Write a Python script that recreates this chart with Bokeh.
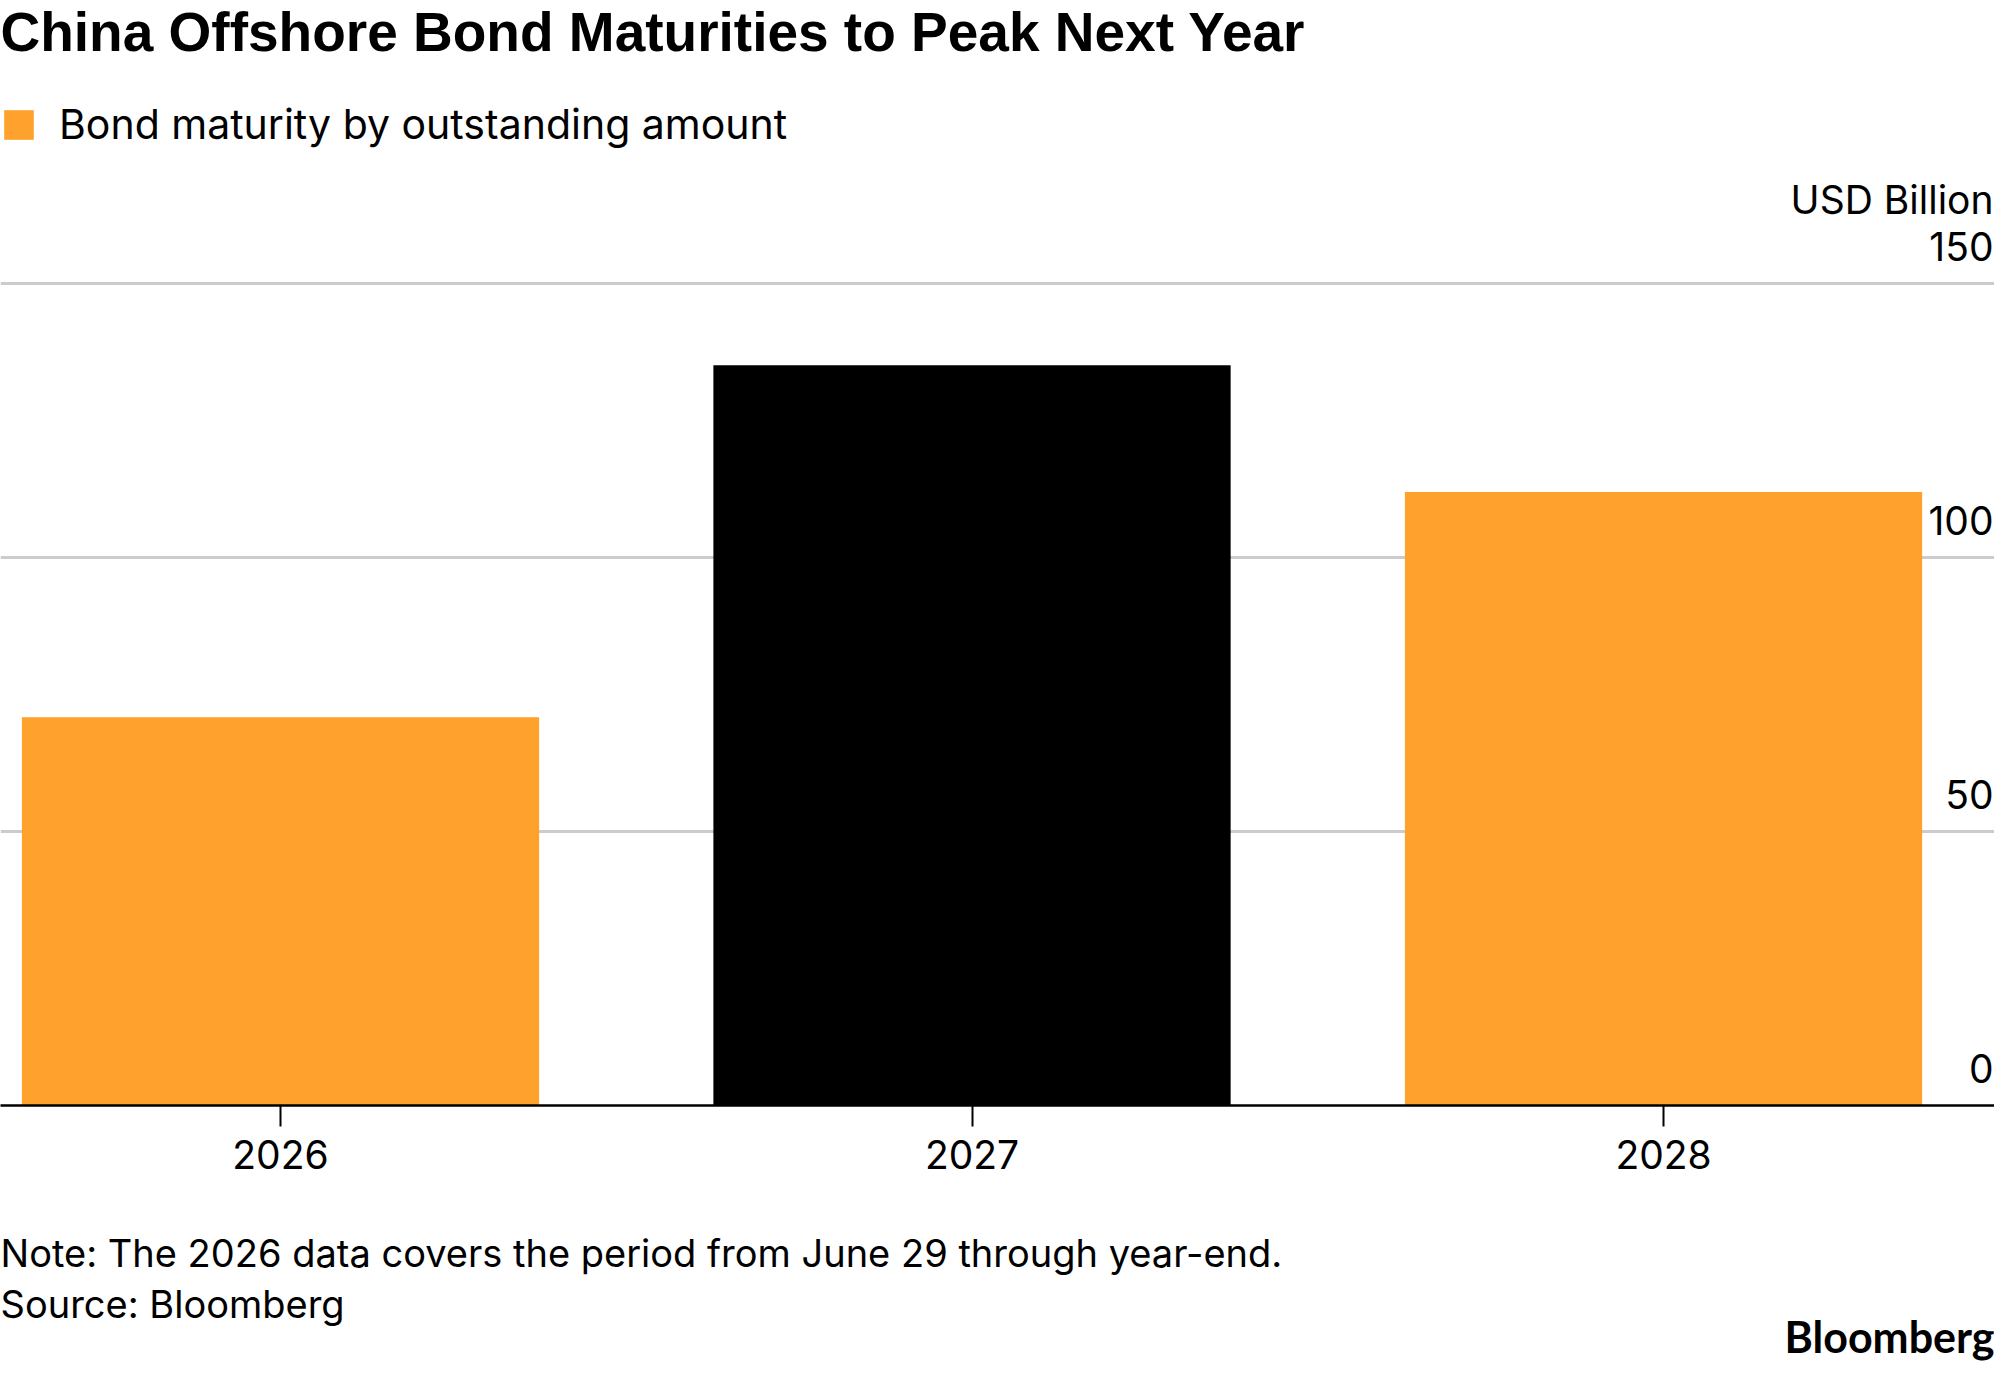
from bokeh.plotting import figure
from bokeh.models import (ColumnDataSource, FixedTicker, Grid, Label, LabelSet,
                          Legend, LegendItem, Range1d, Title)
from bokeh.core.properties import value
from bokeh.embed import file_html
from bokeh.resources import INLINE

# ---- data ----
years = [2026, 2027, 2028]
amounts = [70.8, 135.0, 111.9]
bar_colors = ["#FFA12D", "#000000", "#FFA12D"]
y_ticks = [0, 50, 100, 150]
y_tick_labels = ["0", "50", "100", "150"]
year_labels = ["2026", "2027", "2028"]

title_text = "China Offshore Bond Maturities to Peak Next Year"
legend_label = "Bond maturity by outstanding amount"
unit_label = "USD Billion"
note_text = "Note: The 2026 data covers the period from June 29 through year-end."
source_text = "Source: Bloomberg"
brand_text = "Bloomberg"

# ---- layout constants ----
W, H = 1994, 1370
BOTTOM = 265
FRAME_H = H - BOTTOM
FONT = "Inter"
FS = "39px"

p = figure(width=W, height=H, output_backend="svg", toolbar_location=None,
           x_range=Range1d(2025.5951, 2028.4786), y_range=Range1d(0, FRAME_H / 5.4833),
           y_axis_location=None,
           min_border_left=0, min_border_right=0,
           min_border_top=0, min_border_bottom=BOTTOM)
p.outline_line_color = None
p.background_fill_color = "white"
p.border_fill_color = "white"
p.xgrid.visible = False
p.ygrid.visible = False

src = ColumnDataSource(dict(x=years, top=amounts, color=bar_colors))
bars = p.vbar(x="x", top="top", bottom=0, width=0.748, fill_color="color",
              line_color=None, source=src)

# gridlines
p.add_layout(Grid(dimension=1, ticker=FixedTicker(ticks=y_ticks),
                  grid_line_color="#cccccc", grid_line_width=3))

# x axis
ax = p.xaxis[0]
ax.ticker = FixedTicker(ticks=years)
ax.major_label_overrides = {y: lab for y, lab in zip(years, year_labels)}
ax.minor_tick_line_color = None
ax.major_tick_out = 21
ax.major_tick_in = 0
ax.major_tick_line_width = 2
ax.major_tick_line_color = "black"
ax.axis_line_width = 2.5
ax.axis_line_color = "black"
ax.major_label_text_font = FONT
ax.major_label_text_font_size = FS
ax.major_label_text_color = "black"
ax.major_label_standoff = 13
# empty axis label used only as spacing before the notes
ax.axis_label = " "
ax.axis_label_text_font_size = "1px"
ax.axis_label_standoff = 48

# y tick labels (inside, right aligned, above gridlines)
ysrc = ColumnDataSource(dict(y=y_ticks, text=y_tick_labels))
p.add_layout(LabelSet(x=W - 1, x_units="screen", y="y", text="text", source=ysrc,
                      y_offset=22.5, text_align="right", text_baseline="alphabetic",
                      text_font=value(FONT), text_font_size=value(FS), text_color="black"))
p.add_layout(Label(x=W - 1, x_units="screen", y=y_ticks[-1], y_offset=84,
                   text=unit_label, text_align="right", text_baseline="alphabetic",
                   text_font=FONT, text_font_size=FS, text_color="black"))

# legend
legend = Legend(items=[LegendItem(label=legend_label, renderers=[bars], index=0)],
                location=(0, FRAME_H - 126 - 23), orientation="horizontal",
                border_line_color=None, background_fill_alpha=0,
                padding=0, margin=0, glyph_width=37, glyph_height=37,
                label_standoff=22, label_text_font=FONT, label_text_font_size="41px",
                label_text_color="black")
p.add_layout(legend)

# title (inside the top of the frame)
p.add_layout(Label(x=0, y=FRAME_H - 31, x_units="screen", y_units="screen",
                   text=title_text, text_font="Liberation Sans", text_font_style="bold",
                   text_font_size="55px", text_baseline="alphabetic", text_color="black"))

# notes below the axis
p.add_layout(Title(text=note_text, align="left", text_font=FONT, text_font_size="38px",
                   text_font_style="normal", text_color="black", standoff=9), "below")
p.add_layout(Title(text=source_text, align="left", text_font=FONT, text_font_size="38px",
                   text_font_style="normal", text_color="black", standoff=-4), "below")
p.add_layout(Title(text=brand_text, align="right", text_font="Lato", text_font_size="43px",
                   text_font_style="bold", text_color="black", standoff=-31), "below")

open("out.html", "w").write(file_html(p, INLINE, title=title_text))
